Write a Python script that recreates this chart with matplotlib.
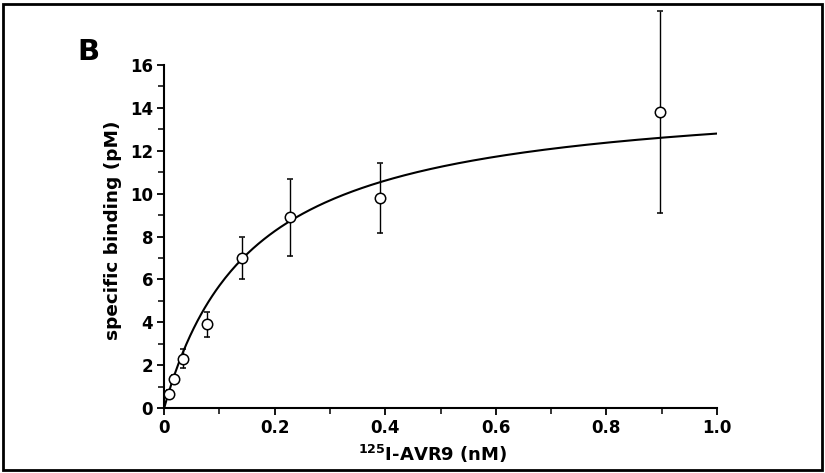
import matplotlib
matplotlib.use("Agg")
import matplotlib.pyplot as plt
import matplotlib.patches as mpatches
import numpy as np

# Dados
conc_nM = [0.008, 0.017, 0.034, 0.077, 0.140, 0.228, 0.390, 0.897]
binding_pM = [0.65, 1.35, 2.3, 3.9, 7.0, 8.9, 9.8, 13.8]
erro_pM = [0.2, 0.2, 0.45, 0.6, 1.0, 1.8, 1.65, 4.7]

# Parametros do ajuste (hiperbole de saturacao)
BMAX = 14.85
KD = 0.16

x_ticks = [0, 0.2, 0.4, 0.6, 0.8, 1.0]
x_labels = ["0", "0.2", "0.4", "0.6", "0.8", "1.0"]
y_ticks = [0, 2, 4, 6, 8, 10, 12, 14, 16]

plt.rcParams["font.family"] = ["DejaVu Sans"]
plt.rcParams["font.weight"] = "bold"
plt.rcParams["mathtext.default"] = "bf"

fig = plt.figure(figsize=(8.25, 4.73), dpi=100)
ax = fig.add_axes([0.199, 0.1374, 0.670, 0.7252])

# Curva ajustada
xc = np.linspace(0, 1.0, 300)
ax.plot(xc, BMAX * xc / (KD + xc), color="black", lw=1.5, zorder=2)

# Pontos com barras de erro
ax.errorbar(conc_nM, binding_pM, yerr=erro_pM, fmt="o", ms=7.5,
            mfc="white", mec="black", mew=1.1, ecolor="black",
            elinewidth=1.0, capsize=2, capthick=1.0, zorder=3,
            clip_on=False)

ax.set_xlim(0, 1.0)
ax.set_ylim(0, 16)
ax.set_xticks(x_ticks)
ax.set_xticklabels(x_labels)
ax.set_yticks(y_ticks)
ax.set_xticks(np.arange(0.1, 1.0, 0.2), minor=True)
ax.set_yticks(np.arange(1, 16, 2), minor=True)

for s in ["top", "right"]:
    ax.spines[s].set_visible(False)
for s in ["left", "bottom"]:
    ax.spines[s].set_linewidth(1.5)

ax.tick_params(which="major", direction="out", length=5, width=1.3,
               labelsize=12, pad=3)
ax.tick_params(which="minor", direction="out", length=4, width=1.1)
for lab in ax.get_xticklabels() + ax.get_yticklabels():
    lab.set_fontweight("bold")

ax.set_ylabel("specific binding (pM)", fontsize=13.3, fontweight="bold")
ax.yaxis.set_label_coords(-0.076, 0.519)
ax.set_xlabel(r"$^{125}$I-AVR9 (nM)", fontsize=13, fontweight="bold")
ax.xaxis.set_label_coords(0.485, -0.102)

# Letra do painel
fig.text(0.094, 0.89, "B", fontsize=21, fontweight="bold",
         ha="left", va="center")

# Moldura externa
fig.patches.append(mpatches.Rectangle(
    (0.004, 0.006), 0.992, 0.986, transform=fig.transFigure,
    fill=False, edgecolor="black", linewidth=2.0))

fig.savefig("out.png", dpi=100)
